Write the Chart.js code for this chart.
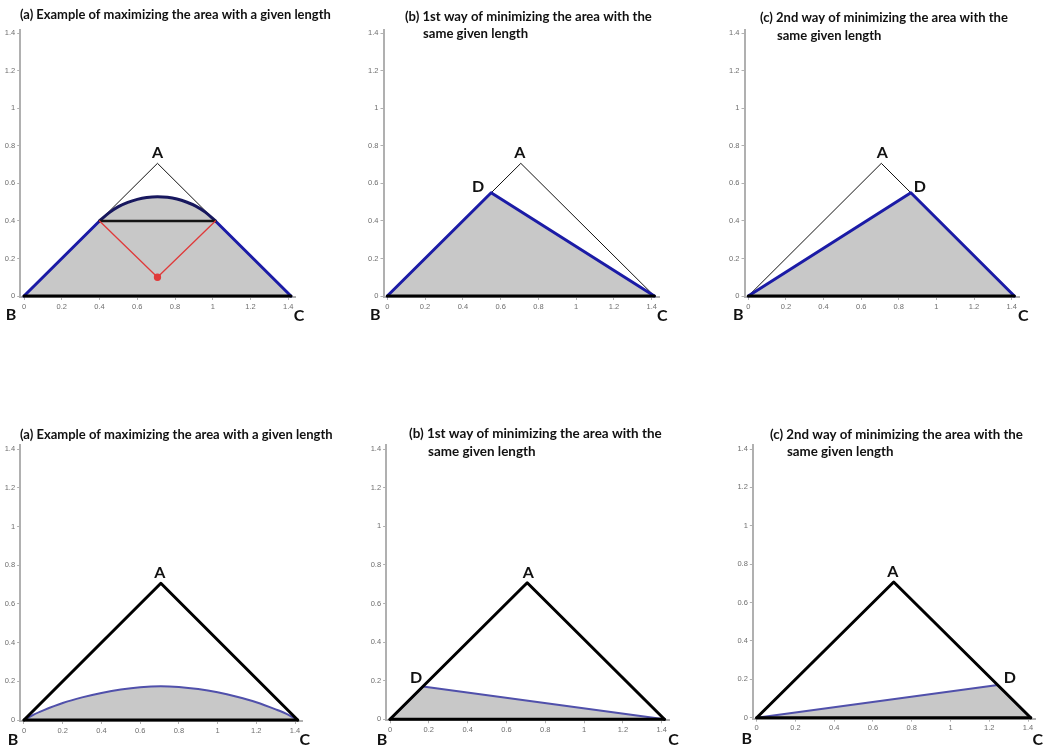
<!DOCTYPE html>
<html>
<head>
<meta charset="utf-8">
<script src="https://cdn.jsdelivr.net/npm/chart.js@4.4.1/dist/chart.umd.min.js"></script>
<style>
  html, body { margin: 0; padding: 0; background: #fff; }
  body { width: 1050px; height: 751px; position: relative; overflow: hidden; }
  canvas { position: absolute; }
</style>
</head>
<body>
<canvas id="g1" width="350" height="375" style="left:0px;top:0px"></canvas>
<canvas id="g2" width="350" height="375" style="left:350px;top:0px"></canvas>
<canvas id="g3" width="350" height="375" style="left:700px;top:0px"></canvas>
<canvas id="g4" width="350" height="376" style="left:0px;top:375px"></canvas>
<canvas id="g5" width="350" height="376" style="left:350px;top:375px"></canvas>
<canvas id="g6" width="350" height="376" style="left:700px;top:375px"></canvas>
<script>
// Ticks de los dos ejes (iguales en x e y)
const ticksEje = [0, 0.2, 0.4, 0.6, 0.8, 1, 1.2, 1.4];
const etiquetasEje = ['0', '0.2', '0.4', '0.6', '0.8', '1', '1.2', '1.4'];

// Vértices del triángulo
const verticeA = { x: 0.707, y: 0.707 };
const verticeB = { x: 0, y: 0 };
const verticeC = { x: 1.414, y: 0 };

// Fila de arriba (a): arco que maximiza el área
const arcoX = [0.4, 0.45, 0.5, 0.55, 0.6, 0.65, 0.707, 0.76, 0.81, 0.86, 0.91, 0.96, 1.014];
const arcoY = [0.4, 0.443, 0.476, 0.499, 0.515, 0.525, 0.529, 0.526, 0.517, 0.501, 0.479, 0.447, 0.4];
const centroArco = { x: 0.707, y: 0.1 };

// Fila de arriba (b) y (c): punto D
const puntoDb1 = { x: 0.55, y: 0.55 };
const puntoDc1 = { x: 0.864, y: 0.55 };

// Fila de abajo (a): curva baja
const curvaX = [0, 0.05, 0.1, 0.2, 0.3, 0.4, 0.5, 0.6, 0.707, 0.8, 0.9, 1.0, 1.1, 1.2, 1.3, 1.364, 1.414];
const curvaY = [0, 0.028, 0.05, 0.088, 0.117, 0.14, 0.158, 0.17, 0.175, 0.171, 0.16, 0.143, 0.12, 0.092, 0.055, 0.028, 0];

// Fila de abajo (b) y (c): punto D
const puntoDb2 = { x: 0.17, y: 0.17 };
const puntoDc2 = { x: 1.244, y: 0.17 };

const tituloA = ['(a) Example of maximizing the area with a given length'];
const tituloB = ['(b) 1st way of minimizing the area with the', 'same given length'];
const tituloC = ['(c) 2nd way of minimizing the area with the', 'same given length'];

// Colores
const gris = '#c8c8c8';
const azul = '#1b1ba6';
const azulOscuro = '#17175e';
const azulClaro = '#5050ab';
const rojo = '#e03a3a';

const juntar = (xs, ys) => xs.map((x, i) => ({ x: x, y: ys[i] }));
const puntosArco = juntar(arcoX, arcoY);
const puntosCurva = juntar(curvaX, curvaY);

// Línea simple (scatter con showLine)
const linea = (datos, color, ancho, extra) => Object.assign({
    data: datos,
    showLine: true,
    borderColor: color,
    borderWidth: ancho,
    pointRadius: 0,
    fill: false,
    clip: false,
    borderJoinStyle: 'round',
    borderCapStyle: 'round'
}, extra || {});

// Región gris rellena hasta y = 0
const region = (datos) => linea(datos, 'rgba(0,0,0,0)', 0, { fill: 'origin', backgroundColor: gris });

// Plugin para títulos y letras de los vértices
const textosPlugin = {
    id: 'textos',
    afterDraw(chart, args, opts) {
        const ctx = chart.ctx;
        const xs = chart.scales.x, ys = chart.scales.y;
        ctx.save();
        ctx.fillStyle = '#111';
        ctx.textBaseline = 'middle';
        ctx.textAlign = 'left';
        // ajustar tamaño del título al ancho medido
        ctx.font = 'bold 13px Lato';
        const medida = ctx.measureText(opts.titulo[0]).width;
        const tam = 13 * opts.anchoTitulo / medida;
        ctx.font = 'bold ' + tam.toFixed(2) + 'px Lato';
        opts.titulo.forEach((t, i) => {
            const pos = opts.posTitulo[i];
            ctx.fillText(t, pos.x - opts.cx, pos.y - opts.cy);
        });
        ctx.font = 'bold 16px Lato';
        ctx.textAlign = 'center';
        opts.letras.forEach(l => {
            ctx.fillText(l.texto, xs.getPixelForValue(l.p.x) + l.dx, ys.getPixelForValue(l.p.y) + l.dy);
        });
        ctx.restore();
    }
};

const escala = (eje, min, max) => ({
    type: 'linear',
    position: eje === 'x' ? 'bottom' : 'left',
    min: min,
    max: max,
    afterBuildTicks: s => { s.ticks = ticksEje.map(v => ({ value: v })); },
    afterFit: s => { if (eje === 'x') s.height = 14; else s.width = 18; },
    border: { display: true, color: '#b0b0b0', width: 2 },
    grid: { display: true, drawOnChartArea: false, drawTicks: true, tickLength: 3, color: '#b0b0b0' },
    ticks: {
        autoSkip: false,
        maxRotation: 0,
        padding: 2,
        color: '#6e6e6e',
        font: { family: 'Liberation Sans', size: 7.5 },
        callback: (v, i) => etiquetasEje[i]
    }
});

const rangoX = [-0.02, 1.44];
const rangoY = [-0.005, 1.42];

function crearPanel(id, lienzo, marco, titulo, posTitulo, anchoTitulo, letras, datasets) {
    // padding para que el área del gráfico caiga donde está en la imagen
    const kx = (marco.x14 - marco.x0) / 1.4;
    const ky = (marco.y0 - marco.y14) / 1.4;
    const izq = marco.x0 + rangoX[0] * kx - lienzo.cx;
    const der = marco.x0 + rangoX[1] * kx - lienzo.cx;
    const arr = marco.y0 - rangoY[1] * ky - lienzo.cy;
    const aba = marco.y0 - rangoY[0] * ky - lienzo.cy;
    const ctx = document.getElementById(id).getContext('2d');
    return new Chart(ctx, {
        type: 'scatter',
        data: { datasets: datasets },
        options: {
            responsive: false,
            animation: false,
            devicePixelRatio: 1,
            layout: { padding: { left: izq - 18, right: lienzo.w - der, top: arr, bottom: lienzo.h - aba - 14 } },
            scales: { x: escala('x', rangoX[0], rangoX[1]), y: escala('y', rangoY[0], rangoY[1]) },
            plugins: {
                legend: { display: false },
                tooltip: { enabled: false },
                filler: { drawTime: 'beforeDatasetsDraw' },
                textos: {
                    titulo: titulo, posTitulo: posTitulo, anchoTitulo: anchoTitulo,
                    cx: lienzo.cx, cy: lienzo.cy, letras: letras
                }
            }
        },
        plugins: [textosPlugin]
    });
}

const trianguloFino = linea([verticeB, verticeA, verticeC], '#111', 1);
const trianguloGrueso = linea([verticeB, verticeA, verticeC], '#000', 3);
const base = linea([verticeB, verticeC], '#000', 3);
const p1 = puntosArco[0], p2 = puntosArco[puntosArco.length - 1];

// (a) arriba — el primer dataset queda encima
crearPanel('g1', { cx: 0, cy: 0, w: 350, h: 375 },
    { x0: 24, x14: 288.3, y0: 296, y14: 33.3 },
    tituloA, [{ x: 20, y: 15 }], 311,
    [{ texto: 'A', p: verticeA, dx: 0, dy: -10 }, { texto: 'B', p: verticeB, dx: -13, dy: 19 }, { texto: 'C', p: verticeC, dx: 8, dy: 20 }],
    [
        base,
        linea([p1, centroArco, p2], rojo, 1.3, { pointRadius: [0, 3, 0], pointBackgroundColor: rojo, pointBorderColor: rojo }),
        linea([p1, p2], '#151515', 2.5, { borderCapStyle: 'butt' }),
        linea(puntosArco, azulOscuro, 3, { cubicInterpolationMode: 'monotone' }),
        linea([verticeB, p1], azul, 3),
        linea([p2, verticeC], azul, 3),
        trianguloFino,
        region([verticeB].concat(puntosArco, [verticeC]))
    ]);

// (b) arriba
crearPanel('g2', { cx: 350, cy: 0, w: 350, h: 375 },
    { x0: 387.3, x14: 651.7, y0: 296, y14: 33.3 },
    tituloB, [{ x: 405, y: 17 }, { x: 423, y: 34 }], 247,
    [{ texto: 'A', p: verticeA, dx: -1, dy: -10 }, { texto: 'D', p: puntoDb1, dx: -13, dy: -6 },
     { texto: 'B', p: verticeB, dx: -12, dy: 19 }, { texto: 'C', p: verticeC, dx: 8, dy: 20 }],
    [
        base,
        linea([verticeB, puntoDb1, verticeC], azul, 3),
        trianguloFino,
        region([verticeB, puntoDb1, verticeC])
    ]);

// (c) arriba
crearPanel('g3', { cx: 700, cy: 0, w: 350, h: 375 },
    { x0: 748.3, x14: 1011.7, y0: 296, y14: 33.3 },
    tituloC, [{ x: 760, y: 18 }, { x: 777, y: 36 }], 248,
    [{ texto: 'A', p: verticeA, dx: 1, dy: -10 }, { texto: 'D', p: puntoDc1, dx: 9, dy: -6 },
     { texto: 'B', p: verticeB, dx: -10, dy: 19 }, { texto: 'C', p: verticeC, dx: 9, dy: 20 }],
    [
        base,
        linea([verticeB, puntoDc1, verticeC], azul, 3),
        trianguloFino,
        region([verticeB, puntoDc1, verticeC])
    ]);

// (a) abajo
crearPanel('g4', { cx: 0, cy: 375, w: 350, h: 376 },
    { x0: 24, x14: 295, y0: 720, y14: 449.3 },
    tituloA, [{ x: 20, y: 435 }], 313,
    [{ texto: 'A', p: verticeA, dx: -1, dy: -10 }, { texto: 'B', p: verticeB, dx: -11, dy: 20 }, { texto: 'C', p: verticeC, dx: 7, dy: 20 }],
    [
        trianguloGrueso,
        base,
        linea(puntosCurva, azulClaro, 2, { cubicInterpolationMode: 'monotone' }),
        region(puntosCurva)
    ]);

// (b) abajo
crearPanel('g5', { cx: 350, cy: 375, w: 350, h: 376 },
    { x0: 390, x14: 661.7, y0: 719.3, y14: 449 },
    tituloB, [{ x: 409, y: 434 }, { x: 428, y: 452 }], 253,
    [{ texto: 'A', p: verticeA, dx: 1, dy: -10 }, { texto: 'D', p: puntoDb2, dx: -7, dy: -9 },
     { texto: 'B', p: verticeB, dx: -8, dy: 21 }, { texto: 'C', p: verticeC, dx: 9, dy: 21 }],
    [
        trianguloGrueso,
        base,
        linea([verticeB, puntoDb2, verticeC], azulClaro, 2),
        region([verticeB, puntoDb2, verticeC])
    ]);

// (c) abajo
crearPanel('g6', { cx: 700, cy: 375, w: 350, h: 376 },
    { x0: 756.7, x14: 1028, y0: 717.7, y14: 449 },
    tituloC, [{ x: 770, y: 435 }, { x: 787, y: 452 }], 253,
    [{ texto: 'A', p: verticeA, dx: -1, dy: -10 }, { texto: 'D', p: puntoDc2, dx: 12, dy: -7 },
     { texto: 'B', p: verticeB, dx: -10, dy: 21 }, { texto: 'C', p: verticeC, dx: 7, dy: 22 }],
    [
        trianguloGrueso,
        base,
        linea([verticeB, puntoDc2, verticeC], azulClaro, 2),
        region([verticeB, puntoDc2, verticeC])
    ]);
</script>
</body>
</html>
